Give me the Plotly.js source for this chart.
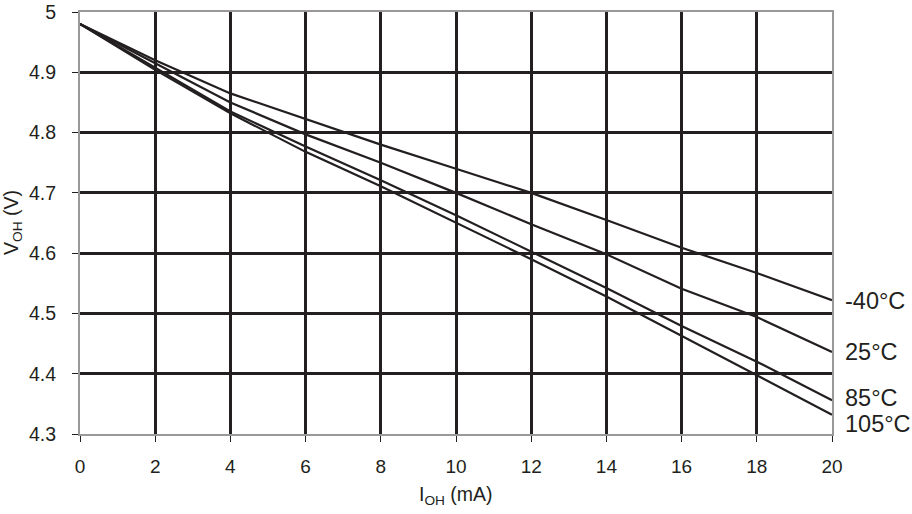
<!DOCTYPE html>
<html><head><meta charset="utf-8">
<script src="https://cdn.plot.ly/plotly-3.0.1.min.js"></script>
<style>body{margin:0;background:#fff}#c{width:912px;height:514px}</style>
</head><body><div id="c"></div>
<script>
const current = [0, 2, 4, 6, 8, 10, 12, 14, 16, 18, 20];
const vM40  = [4.98, 4.920, 4.865, 4.823, 4.780, 4.740, 4.700, 4.655, 4.609, 4.567, 4.522];
const v25   = [4.98, 4.915, 4.850, 4.797, 4.750, 4.700, 4.648, 4.598, 4.541, 4.494, 4.436];
const v85   = [4.98, 4.907, 4.835, 4.777, 4.721, 4.663, 4.602, 4.542, 4.479, 4.420, 4.356];
const v105  = [4.98, 4.904, 4.832, 4.768, 4.711, 4.651, 4.590, 4.528, 4.463, 4.398, 4.332];
const seriesNames = ['-40°C', '25°C', '85°C', '105°C'];
const seriesVals = [vM40, v25, v85, v105];
const labelY = [4.52, 4.436, 4.36, 4.316];
const xTicks = [0, 2, 4, 6, 8, 10, 12, 14, 16, 18, 20];
const yTicks = [4.3, 4.4, 4.5, 4.6, 4.7, 4.8, 4.9, 5];
const yTickText = ['4.3', '4.4', '4.5', '4.6', '4.7', '4.8', '4.9', '5'];

const traces = seriesVals.map((v, i) => ({
  x: current, y: v, type: 'scatter', mode: 'lines', name: seriesNames[i],
  line: {color: '#231f20', width: 2.2}, showlegend: false
}));

const ink = '#231f20';
const layout = {
  width: 912, height: 514,
  margin: {l: 80, r: 80, t: 12, b: 80},
  paper_bgcolor: '#fff', plot_bgcolor: '#fff',
  font: {family: 'Liberation Sans, Arial, sans-serif', color: ink, size: 19},
  xaxis: {
    range: [0, 20], tickvals: xTicks,
    showgrid: true, gridcolor: ink, gridwidth: 3,
    showline: true, linecolor: '#999', linewidth: 2, mirror: true,
    ticks: 'outside', ticklen: 6, tickcolor: ink, tickwidth: 1,
    ticklabelstandoff: 8,
    zeroline: false, automargin: false,
    tickfont: {size: 19}
  },
  yaxis: {
    range: [4.3, 5], tickvals: yTicks, ticktext: yTickText,
    showgrid: true, gridcolor: ink, gridwidth: 3,
    showline: true, linecolor: '#999', linewidth: 2, mirror: true,
    ticks: 'outside', ticklen: 6, tickcolor: ink, tickwidth: 1,
    ticklabelstandoff: 12,
    zeroline: false, automargin: false,
    tickfont: {size: 19.5}
  },
  annotations: seriesNames.map((n, i) => ({
    x: 1, xref: 'paper', xanchor: 'left', xshift: 11,
    y: labelY[i], yref: 'y', yanchor: 'middle',
    text: n, showarrow: false, font: {size: 23.5, color: ink}
  })).concat([
    {x: 0.5, xref: 'paper', xanchor: 'center', y: 0, yref: 'paper', yanchor: 'middle', yshift: -61,
     text: 'I<sub>OH</sub> (mA)', showarrow: false, font: {size: 19.5, color: ink}},
    {x: 0, xref: 'paper', xanchor: 'center', xshift: -68, y: 0.5, yref: 'paper', yanchor: 'middle',
     text: 'V<sub>OH</sub> (V)', textangle: -90, showarrow: false, font: {size: 19.5, color: ink}}
  ])
};
Plotly.newPlot('c', traces, layout, {staticPlot: true});
</script></body></html>
